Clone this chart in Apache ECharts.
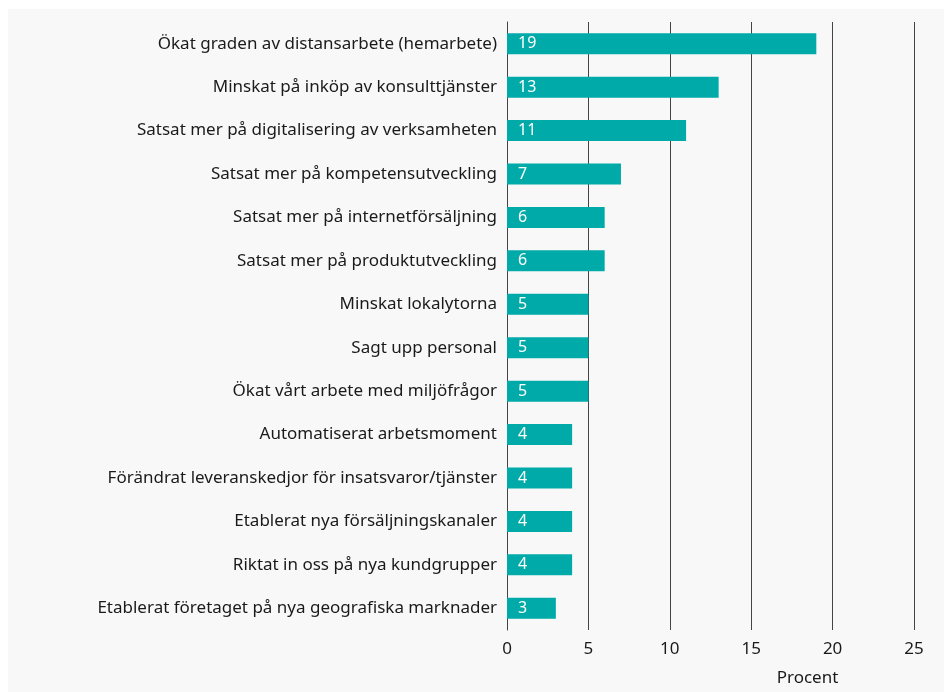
<!DOCTYPE html>
<html>
<head>
<meta charset="utf-8">
<script src="https://cdn.jsdelivr.net/npm/echarts@6/dist/echarts.min.js"></script>
<style>
  html, body { margin: 0; padding: 0; background: #ffffff; overflow: hidden; }
  #panel { position: absolute; left: 8px; top: 9px; width: 936px; height: 683px; background: #f8f8f8; }
  #chart { position: absolute; left: 0; top: 0; width: 944px; height: 692px; }
</style>
</head>
<body>
<div id="panel"></div>
<div id="chart"></div>
<script>
// Åtgärder som företagen vidtagit, andel i procent
const categories = [
  'Ökat graden av distansarbete (hemarbete)',
  'Minskat på inköp av konsulttjänster',
  'Satsat mer på digitalisering av verksamheten',
  'Satsat mer på kompetensutveckling',
  'Satsat mer på internetförsäljning',
  'Satsat mer på produktutveckling',
  'Minskat lokalytorna',
  'Sagt upp personal',
  'Ökat vårt arbete med miljöfrågor',
  'Automatiserat arbetsmoment',
  'Förändrat leveranskedjor för insatsvaror/tjänster',
  'Etablerat nya försäljningskanaler',
  'Riktat in oss på nya kundgrupper',
  'Etablerat företaget på nya geografiska marknader'
];
const values = [19, 13, 11, 7, 6, 6, 5, 5, 5, 4, 4, 4, 4, 3];
const axisName = 'Procent';

const font = '"Noto Sans", sans-serif';
const chart = echarts.init(document.getElementById('chart'), null, { renderer: 'canvas', width: 944, height: 692 });
chart.setOption({
  backgroundColor: 'transparent',
  animation: false,
  grid: { left: 507, width: 407, top: 22, height: 612, containLabel: false },
  xAxis: {
    type: 'value',
    min: 0, max: 25, interval: 5,
    name: axisName,
    nameLocation: 'middle',
    nameGap: 40,
    nameTextStyle: { color: '#1a1a1a', fontSize: 17, fontFamily: font, padding: [0, 0, 0, 194] },
    axisLine: { show: false },
    axisTick: { show: false },
    axisLabel: { color: '#1a1a1a', fontSize: 17, fontFamily: font, margin: 11 },
    splitLine: { show: true, lineStyle: { color: '#444', width: 1 } }
  },
  yAxis: {
    type: 'category',
    data: categories,
    inverse: true,
    axisLine: { show: true, lineStyle: { color: '#444', width: 1 } },
    axisTick: { show: false },
    axisLabel: { color: '#1a1a1a', fontSize: 17, fontFamily: font, margin: 10 }
  },
  series: [{
    type: 'bar',
    data: values,
    barWidth: 21,
    itemStyle: { color: '#00aaa8' },
    label: {
      show: true,
      position: 'insideLeft',
      distance: 11,
      color: '#ffffff',
      fontSize: 16,
      fontFamily: font
    }
  }]
});
</script>
</body>
</html>
